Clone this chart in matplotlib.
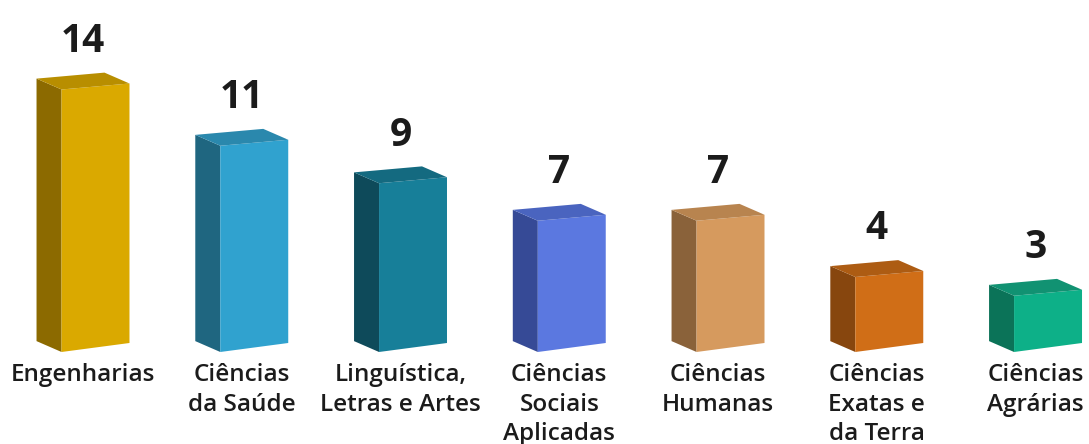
import matplotlib.pyplot as plt
from matplotlib.patches import Polygon

categories = ["Engenharias", "Ciências\nda Saúde", "Linguística,\nLetras e Artes",
              "Ciências\nSociais\nAplicadas", "Ciências\nHumanas",
              "Ciências\nExatas e\nda Terra", "Ciências\nAgrárias"]
values = [14, 11, 9, 7, 7, 4, 3]

front_colors = ["#DAA900", "#30A2CF", "#177F99", "#5B78E0", "#D69A5E", "#D06E17", "#0DB088"]
side_colors = ["#8C6A00", "#1F6680", "#0E4A5A", "#364A96", "#8A623A", "#87460E", "#0B7358"]
top_colors = ["#B88E00", "#2A88AD", "#146A80", "#4A64BF", "#B8844F", "#AD5C13", "#119272"]

plt.rcParams['font.family'] = ['Open Sans', 'DejaVu Sans']

fig = plt.figure(figsize=(10.89, 4.44), dpi=100)
ax = fig.add_axes([0, 0, 1, 1])
ax.set_xlim(-0.6016, 6.258)
ax.set_ylim(-4.907, 18.773)
ax.axis('off')

# bar geometry (data units)
half_w = 0.214
dx, dy = -0.1575, 0.58        # depth offset going back
tilt_bot, tilt_top = 0.48, 0.32  # slight perspective on the front face

for i, v in enumerate(values):
    xl, xr = i - half_w, i + half_w
    front = [(xl, 0), (xr, tilt_bot), (xr, v + tilt_top), (xl, v)]
    side = [(xl + dx, dy), (xl, 0), (xl, v), (xl + dx, v + dy)]
    top = [(xl, v), (xr, v + tilt_top), (xr + dx, v + tilt_top + dy), (xl + dx, v + dy)]
    ax.add_patch(Polygon(side, closed=True, fc=side_colors[i], ec='none'))
    ax.add_patch(Polygon(front, closed=True, fc=front_colors[i], ec='none'))
    ax.add_patch(Polygon(top, closed=True, fc=top_colors[i], ec='none'))

    cx = i + dx / 2
    ax.annotate(str(v), (cx, v), xytext=(0, 27), textcoords='offset points',
                ha='center', va='baseline', fontsize=28, fontweight='bold', color='#1b1b1b')
    ax.annotate(categories[i], (cx, 0), xytext=(0, -8), textcoords='offset points',
                ha='center', va='top', fontsize=17.5, fontweight='semibold', color='#1b1b1b',
                linespacing=1.3)

fig.savefig("out.png", dpi=100)
